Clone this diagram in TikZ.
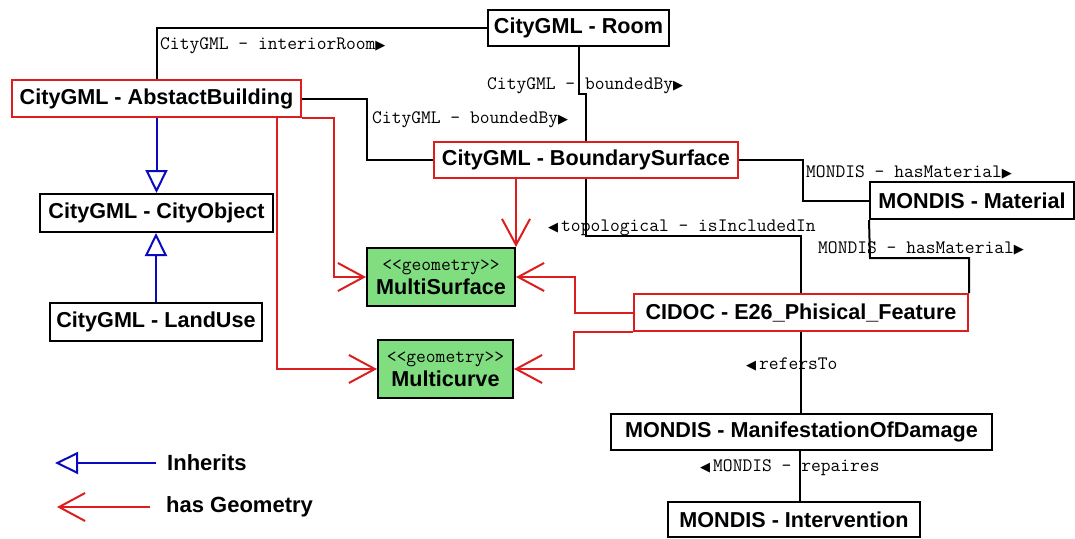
\documentclass[tikz,border=0pt]{standalone}
\usepackage{fontspec}
\setmainfont{Liberation Sans}
\newfontfamily\symf{DejaVu Sans}
\usetikzlibrary{arrows.meta}
\definecolor{geored}{RGB}{220,30,30}
\definecolor{inhblue}{RGB}{10,10,190}
\definecolor{geogreen}{RGB}{128,222,128}
\newcommand{\rtri}{{\symf\fontsize{13}{13}\selectfont ▶}}
\newcommand{\ltri}{{\symf\fontsize{13}{13}\selectfont ◀}\kern3pt}
\tikzset{
  cls/.style={draw=black, line width=2pt, fill=white, inner sep=0pt,
    font=\fontsize{21.6}{24}\selectfont\bfseries},
  redcls/.style={cls, draw=geored},
  geobox/.style={cls, fill=geogreen, align=center},
  lbl/.style={inner sep=0pt, font=\ttfamily\fontsize{19}{20}\selectfont},
  conn/.style={line width=2pt, black},
  geo/.style={line width=2pt, geored, -{Straight Barb[length=26pt, width=28pt, line width=2pt]}},
  inh/.style={line width=2pt, inhblue, -{Triangle[open, length=23pt, width=22pt, line width=2pt]}},
  legtxt/.style={inner sep=0pt, anchor=west, font=\fontsize{22}{24}\selectfont\bfseries}
}
\begin{document}
\begin{tikzpicture}[x=1pt, y=-1pt]
\useasboundingbox (0,0) rectangle (1075,538);
% boxes
\node[cls, minimum width=181, minimum height=36] (room) at (578.5,28) {CityGML - Room};
\node[redcls, minimum width=289, minimum height=37] (abld) at (156.5,98.5) {CityGML - AbstactBuilding};
\node[redcls, minimum width=304, minimum height=36] (bsurf) at (586,160) {CityGML - BoundarySurface};
\node[cls, minimum width=233, minimum height=38] (cobj) at (156.5,213) {CityGML - CityObject};
\node[cls, minimum width=212, minimum height=38] (land) at (156,322) {CityGML - LandUse};
\node[cls, minimum width=204, minimum height=37] (mat) at (972,200.5) {MONDIS - Material};
\node[geobox, minimum width=148, minimum height=58] (msurf) at (441,277) {{\mdseries\ttfamily\fontsize{19}{20}\selectfont <{}<geometry>{}>}\\[0pt]MultiSurface};
\node[geobox, minimum width=135, minimum height=58] (mcurve) at (445.5,369) {{\mdseries\ttfamily\fontsize{19}{20}\selectfont <{}<geometry>{}>}\\[0pt]Multicurve};
\node[redcls, minimum width=334, minimum height=37] (cidoc) at (801,312.5) {CIDOC - E26\_Phisical\_Feature};
\node[cls, minimum width=381, minimum height=36] (mod) at (801.5,432) {MONDIS - ManifestationOfDamage};
\node[cls, minimum width=252, minimum height=35] (interv) at (794,519.5) {MONDIS - Intervention};
% bend points
\coordinate (b1) at (367,160);
\coordinate (b2) at (586,94);
\coordinate (b3) at (803,200.5);
\coordinate (b4) at (801,236);
\coordinate (b5) at (870,258);
\coordinate (r1) at ([xshift=32pt]abld.south east);
\coordinate (r2) at (575,277);
\coordinate (r3) at (574,369);
% black connectors
\draw[conn] (abld.north) |- (room.west);
\draw[conn] (abld.east) -| (b1) -- (bsurf.west);
\draw[conn] (room.south) |- (b2) -- (bsurf.north);
\draw[conn] (bsurf.east) -| (b3) -- (mat.west);
\draw[conn] (bsurf.south) |- (b4) -- (cidoc.north);
\draw[conn] (cidoc.north east) |- (b5) -- (mat.south west);
\draw[conn] (cidoc.south) -- (cidoc.south |- mod.north);
\draw[conn] ([xshift=-1.5pt]mod.south) -- ([xshift=-1.5pt]mod.south |- interv.north);
% labels
\node[lbl, anchor=west] (l1) at (160,46) {CityGML - interiorRoom\rtri};
\node[lbl, anchor=west] (l2) at (487,86) {CityGML - boundedBy\rtri};
\node[lbl, anchor=west] (l3) at (372,120) {CityGML - boundedBy\rtri};
\node[lbl, anchor=west] (l4) at (806,172) {MONDIS - hasMaterial\rtri};
\node[lbl, anchor=west] (l5) at (548,228) {\ltri topological - isIncludedIn};
\node[lbl, anchor=west] (l6) at (818,248) {MONDIS - hasMaterial\rtri};
\node[lbl, anchor=west] (l7) at (746,364) {\ltri refersTo};
\node[lbl, anchor=west] (l8) at (700,468) {\ltri MONDIS - repaires};
% red geometry connectors
\draw[geo] (abld.south east) -- (r1) |- (msurf.west);
\draw[geo] ([xshift=120.5pt]abld.south) |- (mcurve.west);
\draw[geo] (bsurf.south -| msurf.north east) -- (msurf.north east);
\draw[geo] (cidoc.west) -| (r2) -- (msurf.east);
\draw[geo] (cidoc.south west) -| (r3) -- (mcurve.east);
% blue inheritance
\draw[inh] (abld.south) -- (cobj.north);
\draw[inh] (land.north) -- (land.north |- cobj.south);
% legend
\node[legtxt] (leg1) at (167,463) {Inherits};
\node[legtxt] (leg2) at (166,507) {has Geometry};
\draw[inh] ([xshift=-11pt]leg1.west) -- ++(-101,0);
\draw[geo] ([xshift=-16pt]leg2.west) -- ++(-93,0);
\end{tikzpicture}
\end{document}
